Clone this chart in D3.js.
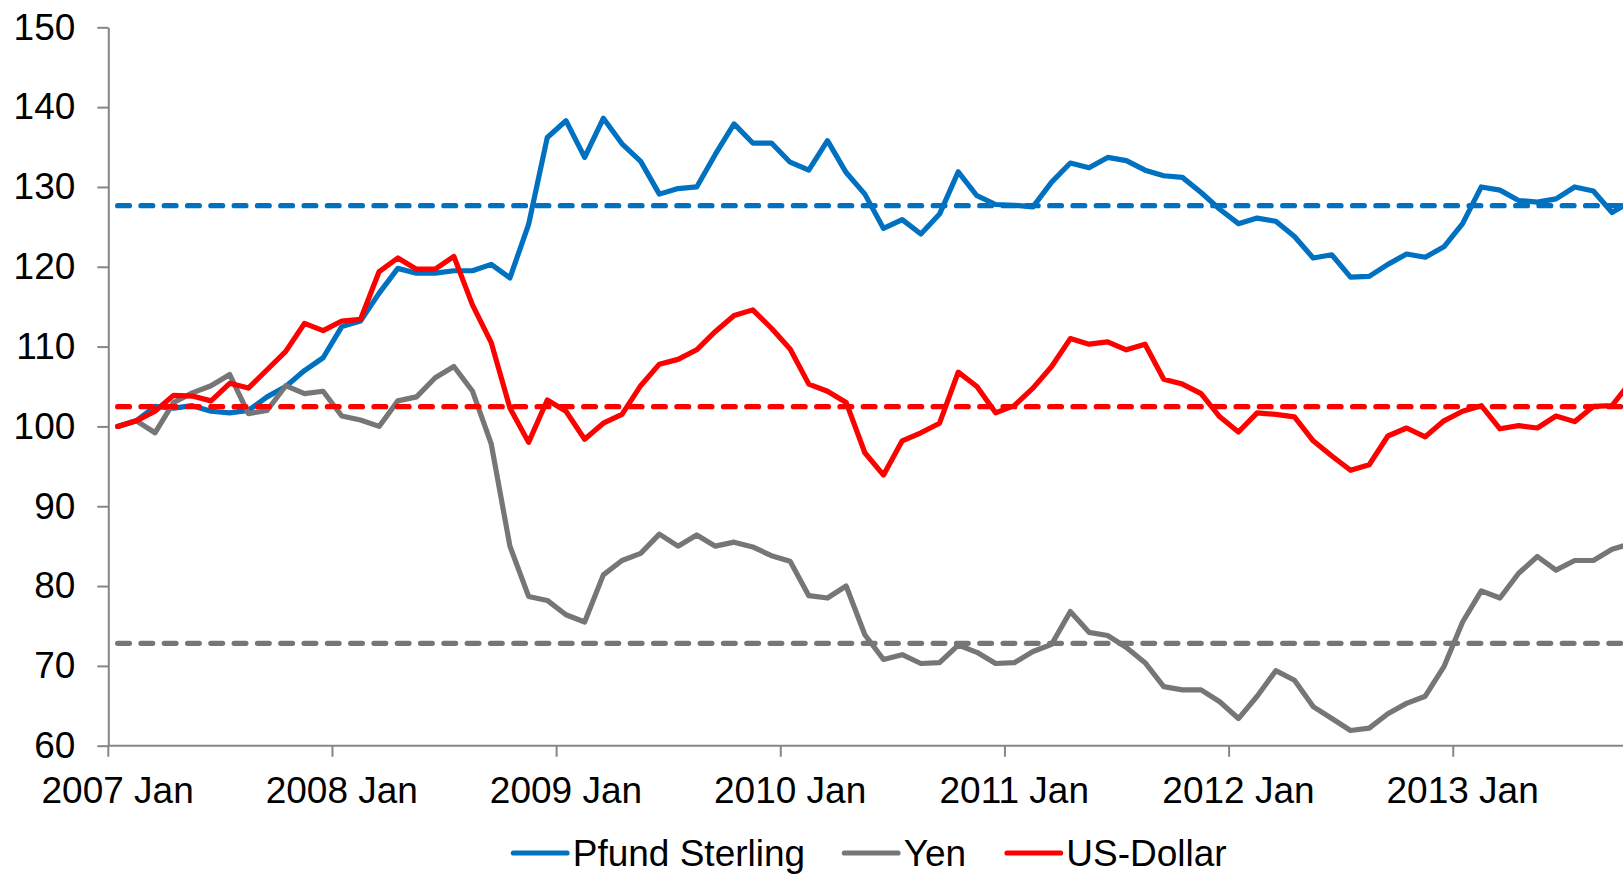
<!DOCTYPE html>
<html>
<head>
<meta charset="utf-8">
<script src="https://cdn.jsdelivr.net/npm/d3@7"></script>
<style>
  html, body { margin: 0; padding: 0; background: #fff; }
  svg { display: block; font-family: "Liberation Sans", Arial, sans-serif; }
</style>
</head>
<body>
<svg id="chart" width="1623" height="874"></svg>
<script>
// monthly index values, 2007 Jan = 100
const startYear = 2007
const months = d3.range(82).map(i => `${startYear + Math.floor(i / 12)}-${String(i % 12 + 1).padStart(2, "0")}`)
const yearTicks = ["2007-01", "2008-01", "2009-01", "2010-01", "2011-01", "2012-01", "2013-01"]
const yearLabels = ["2007 Jan", "2008 Jan", "2009 Jan", "2010 Jan", "2011 Jan", "2012 Jan", "2013 Jan"]
const yTicks = [60, 70, 80, 90, 100, 110, 120, 130, 140, 150]

const pfund = [100.0, 100.7, 102.5, 102.3, 102.6, 101.9, 101.7, 102.0, 103.7, 105.0, 107.0, 108.6, 112.5, 113.2, 116.7,
  119.8, 119.2, 119.2, 119.5, 119.5, 120.3, 118.6, 125.3, 136.2, 138.3, 133.7, 138.6, 135.4, 133.2, 129.1,
  129.8, 130.0, 134.1, 137.9, 135.5, 135.5, 133.1, 132.1, 135.8, 131.8, 129.1, 124.8, 125.9, 124.1,
  126.6, 131.9, 128.9, 127.8, 127.7, 127.5, 130.6, 133.0, 132.4, 133.7, 133.3, 132.1, 131.4, 131.2, 129.3,
  127.2, 125.4, 126.1, 125.7, 123.8, 121.1, 121.5, 118.7, 118.8, 120.3, 121.6, 121.2, 122.5, 125.4,
  130.0, 129.6, 128.3, 128.1, 128.5, 130.0, 129.5, 126.8, 128.2]
const yen = [100.0, 100.7, 99.2, 103.0, 104.2, 105.1, 106.5, 101.6, 102.0, 105.1, 104.1, 104.4, 101.3, 100.8, 100.0,
  103.2, 103.7, 106.1, 107.5, 104.4, 97.8, 85.0, 78.7, 78.2, 76.4, 75.5, 81.4, 83.2, 84.1, 86.5,
  85.0, 86.4, 85.0, 85.5, 84.9, 83.8, 83.1, 78.8, 78.5, 80.0, 73.9, 70.8, 71.4, 70.3,
  70.4, 72.6, 71.7, 70.3, 70.4, 71.8, 72.7, 76.8, 74.2, 73.8, 72.3, 70.4, 67.4, 67.0, 67.0,
  65.5, 63.4, 66.2, 69.4, 68.2, 64.9, 63.4, 61.9, 62.2, 64.0, 65.3, 66.2, 69.9, 75.5,
  79.4, 78.5, 81.6, 83.7, 82.0, 83.2, 83.2, 84.6, 85.3]
const usd = [100.0, 100.7, 101.9, 103.9, 103.8, 103.2, 105.4, 104.8, 107.1, 109.4, 112.9, 112.0, 113.2, 113.4, 119.4,
  121.1, 119.7, 119.7, 121.3, 115.2, 110.5, 102.3, 98.0, 103.3, 101.9, 98.4, 100.4, 101.5, 105.1, 107.8,
  108.4, 109.6, 111.9, 113.9, 114.6, 112.3, 109.7, 105.3, 104.4, 103.0, 96.7, 93.9, 98.2, 99.2,
  100.4, 106.8, 105.0, 101.7, 102.6, 104.8, 107.5, 111.0, 110.3, 110.6, 109.6, 110.3, 105.9, 105.3, 104.1,
  101.2, 99.3, 101.7, 101.5, 101.2, 98.2, 96.3, 94.5, 95.2, 98.8, 99.8, 98.7, 100.7, 101.9,
  102.6, 99.7, 100.1, 99.8, 101.3, 100.6, 102.5, 102.6, 105.6]

// long-run averages (dashed lines)
const averages = [127.65, 72.83, 102.47]

const seriesNames = ["Pfund Sterling", "Yen", "US-Dollar"]
const seriesValues = [pfund, yen, usd]
const colors = ["#0070C0", "#767676", "#FF0000"]

const svg = d3.select("#chart")
const axisColor = "#868686"
const fontSize = "37px"
const lineWidth = 5.2

const x = d3.scaleBand()
  .domain(months)
  .range([108.3, 108.3 + 18.68 * months.length])

const y = d3.scaleLinear()
  .domain([60, 150])
  .range([745.7, 27.3])

const cx = d => x(d) + x.bandwidth() / 2

// y axis
const yAxis = d3.axisLeft(y)
  .tickValues(yTicks)
  .tickSize(11)
  .tickPadding(22)
  .tickSizeOuter(0)

const gy = svg.append("g")
  .attr("transform", "translate(108.3,0)")
  .call(yAxis)
gy.select(".domain").attr("stroke", axisColor).attr("stroke-width", 2)
gy.selectAll(".tick line").attr("stroke", axisColor).attr("stroke-width", 2)
gy.selectAll(".tick text")
  .attr("fill", "#000")
  .style("font-size", fontSize)
  .style("font-family", "Liberation Sans, Arial, sans-serif")

// x axis: labels at the January point, tick marks at the month boundary
const xAxis = d3.axisBottom(x)
  .tickValues(yearTicks)
  .tickFormat((d, i) => yearLabels[i])
  .tickSize(0)
  .tickPadding(31)
  .tickSizeOuter(0)

const gx = svg.append("g")
  .attr("transform", "translate(0,745.7)")
  .call(xAxis)
gx.select(".domain").remove()
gx.selectAll(".tick text")
  .attr("fill", "#000")
  .style("font-size", fontSize)
  .style("font-family", "Liberation Sans, Arial, sans-serif")

gx.append("line")
  .attr("x1", 108.3).attr("x2", 1623)
  .attr("y1", 0).attr("y2", 0)
  .attr("stroke", axisColor).attr("stroke-width", 2)

gx.selectAll(".year-tick")
  .data(yearTicks)
  .join("line")
  .attr("class", "year-tick")
  .attr("x1", d => x(d)).attr("x2", d => x(d))
  .attr("y1", 0).attr("y2", 11)
  .attr("stroke", axisColor).attr("stroke-width", 2)

// series lines
const line = d3.line()
  .x((v, i) => cx(months[i]))
  .y(v => y(v))

svg.append("g")
  .selectAll("path")
  .data(seriesValues)
  .join("path")
  .attr("d", line)
  .attr("fill", "none")
  .attr("stroke", (d, i) => colors[i])
  .attr("stroke-width", lineWidth)
  .attr("stroke-linejoin", "round")
  .attr("stroke-linecap", "round")

// dashed average lines
svg.append("g")
  .selectAll("line")
  .data(averages)
  .join("line")
  .attr("x1", cx(months[0]))
  .attr("x2", cx(months[months.length - 1]))
  .attr("y1", d => y(d))
  .attr("y2", d => y(d))
  .attr("stroke", (d, i) => colors[i])
  .attr("stroke-width", lineWidth)
  .attr("stroke-dasharray", "11.8 11.5")
  .attr("stroke-linecap", "round")

// legend (kept a touch above the bottom edge so descenders are not clipped)
const legendX = [513.4, 844.4, 1007]
const legend = svg.append("g")
  .selectAll("g")
  .data(seriesNames)
  .join("g")
  .attr("transform", (d, i) => `translate(${legendX[i]},853)`)

legend.append("line")
  .attr("x1", 0).attr("x2", 53.6)
  .attr("y1", 0).attr("y2", 0)
  .attr("stroke", (d, i) => colors[i])
  .attr("stroke-width", lineWidth)
  .attr("stroke-linecap", "round")

legend.append("text")
  .attr("x", 59.3)
  .attr("y", 12.6)
  .attr("fill", "#000")
  .style("font-size", fontSize)
  .text(d => d)
</script>
</body>
</html>
